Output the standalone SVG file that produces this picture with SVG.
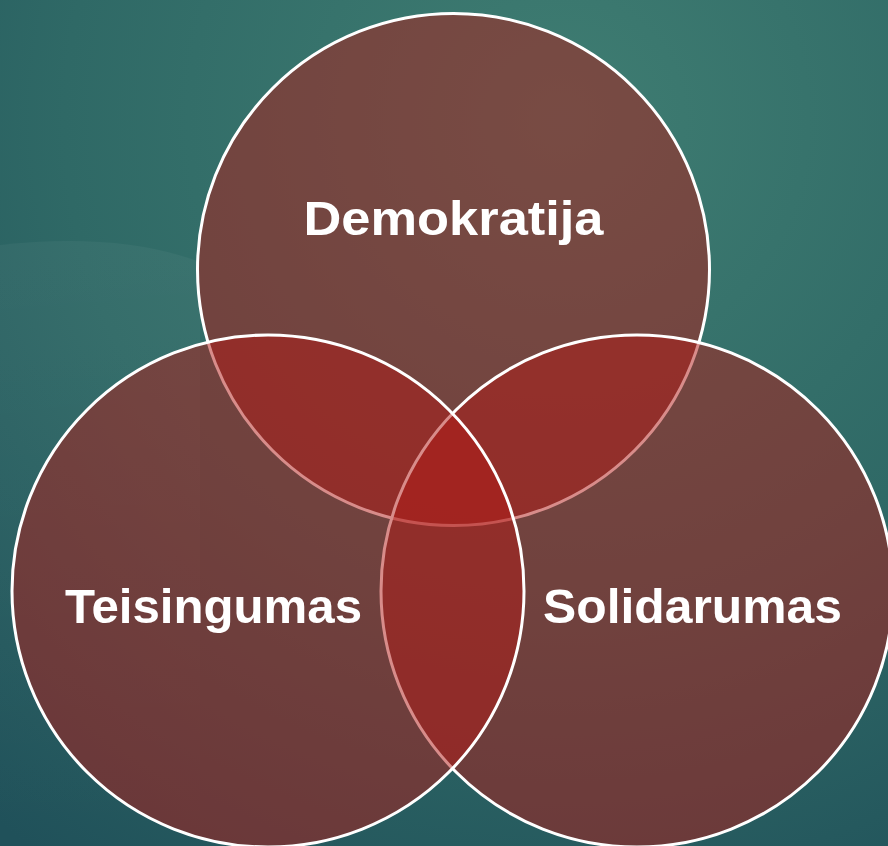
<svg xmlns="http://www.w3.org/2000/svg" width="888" height="846" viewBox="0 0 888 846">
  <defs>
    <radialGradient id="bg" cx="560" cy="120" r="900" gradientUnits="userSpaceOnUse">
      <stop offset="0" stop-color="#3f7d72"/>
      <stop offset="0.55" stop-color="#2f6966"/>
      <stop offset="1" stop-color="#20515a"/>
    </radialGradient>
    <linearGradient id="band" x1="0" y1="0" x2="0" y2="1">
      <stop offset="0" stop-color="#ffffff" stop-opacity="0.04"/>
      <stop offset="1" stop-color="#ffffff" stop-opacity="0"/>
    </linearGradient>
  </defs>
  <style>
    .c { fill: rgb(177,26,22); fill-opacity: 0.5; stroke: #ffffff; stroke-width: 3; }
    .t { font-family: "Liberation Sans", Arial, sans-serif; font-weight: bold; font-size: 49px; fill: #ffffff; }
  </style>
  <rect width="888" height="846" fill="url(#bg)"/>
  <path d="M0 245 Q120 232 200 262 L200 846 L0 846 Z" fill="url(#band)"/>
  <g id="node-demokratija">
    <circle class="c" cx="453.5" cy="269.5" r="256"/>
    <text class="t" x="453.5" y="235" text-anchor="middle" textLength="300" lengthAdjust="spacingAndGlyphs">Demokratija</text>
  </g>
  <g id="node-solidarumas">
    <circle class="c" cx="637" cy="591" r="256"/>
    <text class="t" x="692.5" y="623" text-anchor="middle" textLength="299" lengthAdjust="spacingAndGlyphs">Solidarumas</text>
  </g>
  <g id="node-teisingumas">
    <circle class="c" cx="268" cy="591" r="256"/>
    <text class="t" x="213.5" y="623" text-anchor="middle" textLength="297" lengthAdjust="spacingAndGlyphs">Teisingumas</text>
  </g>
  <g id="connectors"></g>
</svg>
